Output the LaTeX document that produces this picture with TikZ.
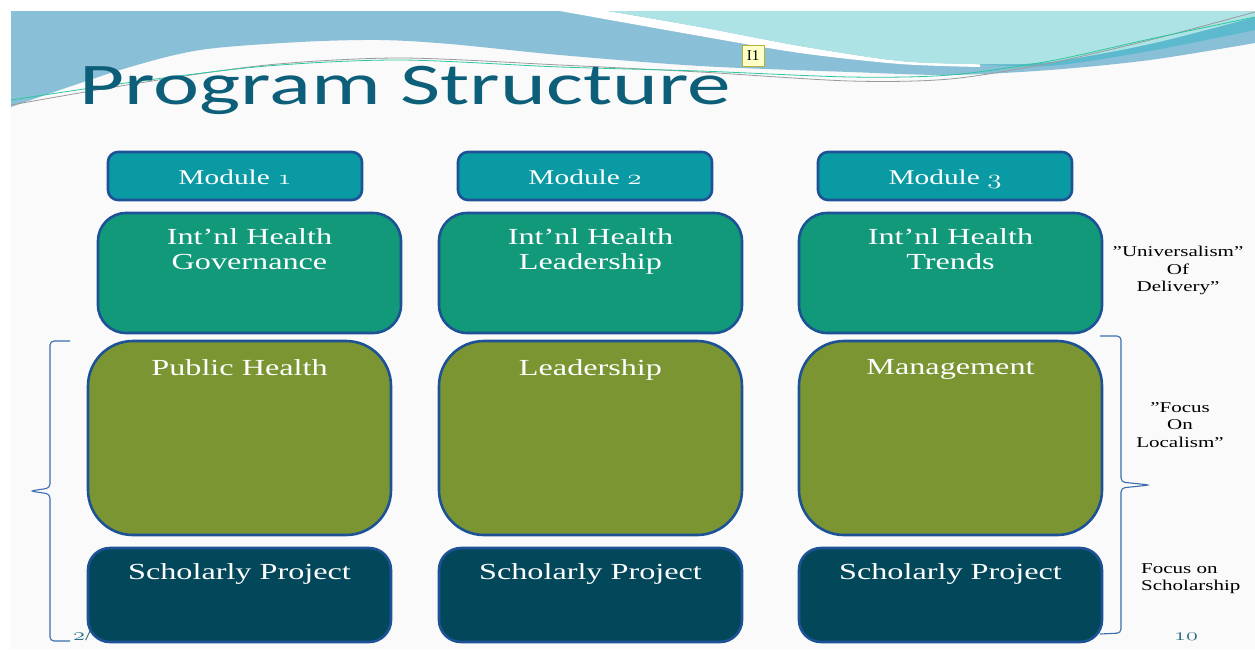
\documentclass[tikz,border=0pt]{standalone}
\usepackage{fontspec}
\usepackage{graphicx}
\usepackage{xcolor}
\setmainfont[FakeStretch=1.4]{Liberation Serif}
\newfontfamily\headfont[FakeStretch=1.48]{Carlito}
\newfontfamily\markfont{Liberation Serif}
\usetikzlibrary{positioning}

\definecolor{slidebg}{HTML}{FAFAFA}
\definecolor{wavebase}{HTML}{8ABFD8}
\definecolor{wavemid}{HTML}{5DB9CD}
\definecolor{wavelight}{HTML}{AEE3E5}
\definecolor{wavegray}{HTML}{9A9A9A}
\definecolor{wavegreen}{HTML}{2BC8A0}
\definecolor{titleteal}{HTML}{0D5F79}
\definecolor{rimblue}{HTML}{1D5396}
\definecolor{modteal}{HTML}{0A9AA4}
\definecolor{healthgreen}{HTML}{11997A}
\definecolor{areaolive}{HTML}{7B9533}
\definecolor{projteal}{HTML}{03485A}
\definecolor{bracelink}{HTML}{3A6EAF}
\definecolor{footteal}{HTML}{2B6F80}
\definecolor{markyellow}{HTML}{FFFFC8}
\definecolor{markolive}{HTML}{B5B03A}

\newcommand{\oldnum}[1]{\scalebox{1.4}[1]{\usefont{OML}{lmm}{m}{it}#1}}
\newcommand{\oldnumbf}[1]{\scalebox{1.4}[1]{\usefont{OML}{lmm}{b}{it}#1}}

\begin{document}
\begin{tikzpicture}[x=1pt,y=-1pt,
		tile/.style={draw=rimblue,line width=2.6pt,inner sep=0pt,minimum width=303pt},
		modtile/.style={tile,fill=modteal,rounded corners=10pt,minimum width=254pt,minimum height=48pt,text height=17pt,text depth=1pt,text=white,font=\fontsize{21}{24}\selectfont},
		healthtile/.style={tile,fill=healthgreen,rounded corners=28pt,minimum height=120pt},
		areatile/.style={tile,fill=areaolive,rounded corners=45pt,minimum height=194pt},
		projtile/.style={tile,fill=projteal,rounded corners=22pt,minimum height=94pt},
		tiletext/.style={text=white,align=center,inner sep=0pt,font=\fontsize{23}{25}\selectfont},
		sidenote/.style={align=center,inner sep=0pt,font=\fontsize{15}{17.5}\selectfont},
		footnum/.style={inner sep=0pt,text=footteal,font=\fontsize{17}{17}\selectfont},
		brace/.style={draw=bracelink,line width=1.1pt,rounded corners=4pt}]
	\useasboundingbox (0,0) rectangle (1255,649);
	\fill[white] (0,0) rectangle (1255,649);
	\fill[slidebg] (11,11) rectangle (1255,649);
	% header waves
	\fill[wavebase] (11,11) -- (1255,11) -- plot[smooth] coordinates {(1255,43) (1150,60) (1050,70) (950,75) (850,72) (700,66) (560,55) (450,44) (380,40) (300,42) (200,50) (120,70) (11,107)} -- cycle;
	\fill[white] plot[smooth] coordinates {(560,11) (700,36) (800,53) (900,64) (980,67)} -- plot[smooth] coordinates {(980,64) (900,61) (800,46) (700,27) (608,11)} -- cycle;
	\fill[wavemid] plot[smooth] coordinates {(975,64) (1050,66) (1150,51) (1255,30)} -- (1255,11) -- (975,11) -- cycle;
	\fill[wavelight] plot[smooth] coordinates {(608,11) (700,27) (800,46) (900,61) (980,64) (1050,62) (1150,44) (1255,17)} -- (1255,11) -- cycle;
	\draw[wavegray,line width=0.8pt] plot[smooth] coordinates {(11,105) (133,84) (267,65) (400,58) (560,65) (700,72) (850,81) (950,79) (1050,63) (1150,40) (1255,12)};
	\draw[wavegreen,line width=0.8pt] plot[smooth] coordinates {(11,100) (133,82) (267,66) (400,60) (560,67) (700,71) (850,77) (950,75) (1050,61) (1150,39) (1255,17)};
	\node[anchor=base west,inner sep=0pt,text=titleteal,font=\headfont\fontsize{59}{60}\selectfont] (title) at (79,104) {Program Structure};
	\node[draw=markolive,fill=markyellow,line width=1pt,minimum width=22pt,minimum height=21pt,inner sep=0pt,font=\markfont\fontsize{15}{15}\selectfont] (note) at (753,56) {I1};
	% braces
	\draw[brace] (70,341) -- (50,341) -- (50,488) -- (30,491) -- (50,494) -- (50,641) -- (70,641);
	\draw[brace] (1100,336) -- (1121,336) -- (1121,482) -- (1150,485) -- (1121,488) -- (1121,633) -- (1100,634);
	\node[footnum,anchor=base west] (date) at (73,640) {\oldnumbf{2}/};
	\node[footnum,anchor=base] (page) at (1186,640) {\oldnumbf{10}};
	% modules
	\node[modtile] (mod1) at (235,176) {Module \oldnum{1}};
	\node[modtile] (mod2) at (585,176) {Module \oldnum{2}};
	\node[modtile] (mod3) at (945,176) {Module \oldnum{3}};
	\node[healthtile] (hlth1) at (249.5,273) {};
	\node[healthtile] (hlth2) at (590.5,273) {};
	\node[healthtile] (hlth3) at (950.5,273) {};
	\node[tiletext,below=17pt of hlth1.north] {Int’nl Health\\Governance};
	\node[tiletext,below=17pt of hlth2.north] {Int’nl Health\\Leadership};
	\node[tiletext,below=17pt of hlth3.north] {Int’nl Health\\Trends};
	\node[areatile] (area1) at (239.5,438) {};
	\node[areatile] (area2) at (590.5,438) {};
	\node[areatile] (area3) at (950.5,438) {};
	\node[tiletext,below=20pt of area1.north] {Public Health};
	\node[tiletext,below=20pt of area2.north] {Leadership};
	\node[tiletext,below=20pt of area3.north] {Management};
	\node[projtile] (proj1) at (239.5,595) {};
	\node[projtile] (proj2) at (590.5,595) {};
	\node[projtile] (proj3) at (950.5,595) {};
	\node[tiletext,below=17pt of proj1.north] {Scholarly Project};
	\node[tiletext,below=17pt of proj2.north] {Scholarly Project};
	\node[tiletext,below=17pt of proj3.north] {Scholarly Project};
	% side notes
	\node[sidenote,anchor=north] (univ) at (1178,246) {”Universalism”\\Of\\Delivery”};
	\node[sidenote,anchor=north] (local) at (1180,402) {”Focus\\On\\Localism”};
	\node[sidenote,anchor=north west,align=left] (schol) at (1141,563) {Focus on\\Scholarship};
\end{tikzpicture}
\end{document}
